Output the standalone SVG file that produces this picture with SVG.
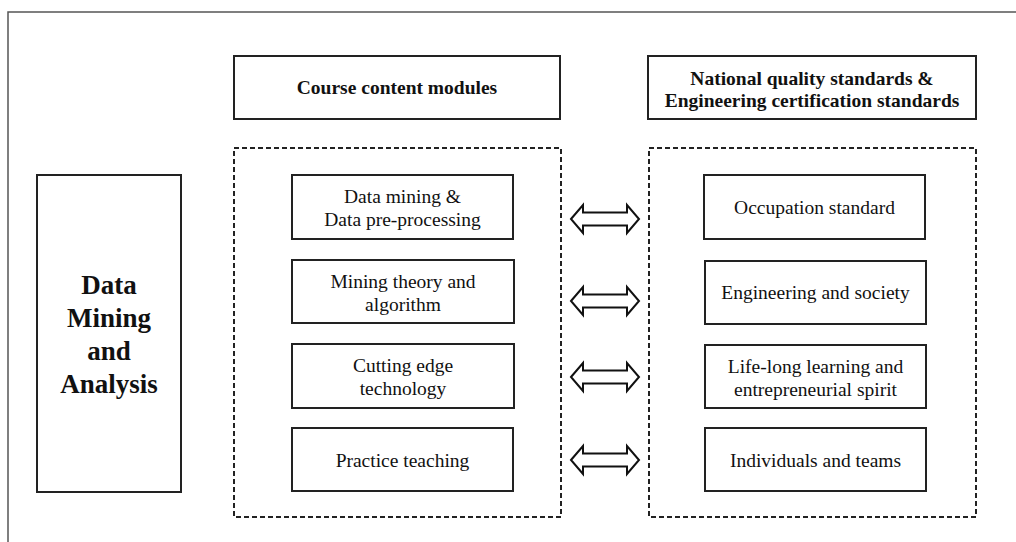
<svg xmlns="http://www.w3.org/2000/svg" width="1016" height="542" viewBox="0 0 1016 542">
<style>
.frame{stroke:#555;stroke-width:1.5;fill:none}
.box{fill:#fff;stroke:#222;stroke-width:2}
.dash{fill:none;stroke:#222;stroke-width:2;stroke-dasharray:5 3}
.arrow{fill:#fff;stroke:#111;stroke-width:2;stroke-linejoin:miter}
text{font-family:"Liberation Serif","Times New Roman",serif;fill:#111;text-anchor:middle}
.b{font-weight:bold;font-size:19.5px}
.r{font-size:19.5px}
.big{font-weight:bold;font-size:27px}
</style>
<rect width="1016" height="542" fill="#fff"/>
<path class="frame" d="M8,542 V12 H1016"/>
<g id="main-title">
<rect class="box" x="37" y="175" width="144" height="317"/>
<text class="big" x="109" y="294">Data</text>
<text class="big" x="109" y="327">Mining</text>
<text class="big" x="109" y="360">and</text>
<text class="big" x="109" y="393">Analysis</text>
</g>
<g id="header-course">
<rect class="box" x="234" y="56" width="326" height="63"/>
<text class="b" x="397" y="94">Course content modules</text>
</g>
<g id="header-standards">
<rect class="box" x="648" y="56" width="328" height="63"/>
<text class="b" x="812" y="85">National quality standards &amp;</text>
<text class="b" x="812" y="107">Engineering certification standards</text>
</g>
<g id="group-course">
<rect class="dash" x="234" y="148" width="327" height="369"/>
</g>
<g id="group-standards">
<rect class="dash" x="649" y="148" width="327" height="369"/>
</g>
<g id="c1">
<rect class="box" x="292" y="175" width="221" height="64"/>
<text class="r" x="402.5" y="203">Data mining &amp;</text>
<text class="r" x="402.5" y="226">Data pre-processing</text>
</g>
<g id="c2">
<rect class="box" x="292" y="260" width="222" height="63"/>
<text class="r" x="403" y="288">Mining theory and</text>
<text class="r" x="403" y="311">algorithm</text>
</g>
<g id="c3">
<rect class="box" x="292" y="344" width="222" height="64"/>
<text class="r" x="403" y="372">Cutting edge</text>
<text class="r" x="403" y="395">technology</text>
</g>
<g id="c4">
<rect class="box" x="292" y="428" width="221" height="63"/>
<text class="r" x="402.5" y="467">Practice teaching</text>
</g>
<g id="s1">
<rect class="box" x="704" y="175" width="221" height="64"/>
<text class="r" x="814.5" y="214">Occupation standard</text>
</g>
<g id="s2">
<rect class="box" x="705" y="261" width="221" height="63"/>
<text class="r" x="815.5" y="299">Engineering and society</text>
</g>
<g id="s3">
<rect class="box" x="705" y="345" width="221" height="63"/>
<text class="r" x="815.5" y="373">Life-long learning and</text>
<text class="r" x="815.5" y="396">entrepreneurial spirit</text>
</g>
<g id="s4">
<rect class="box" x="705" y="428" width="221" height="63"/>
<text class="r" x="815.5" y="467">Individuals and teams</text>
</g>
<g id="connectors">
<path class="arrow" d="M571,219 L583,205 L583,212.5 L627,212.5 L627,205 L639,219 L627,233 L627,225.5 L583,225.5 L583,233 Z"/>
<path class="arrow" d="M571,301 L583,287 L583,294.5 L627,294.5 L627,287 L639,301 L627,315 L627,307.5 L583,307.5 L583,315 Z"/>
<path class="arrow" d="M571,377 L583,363 L583,370.5 L627,370.5 L627,363 L639,377 L627,391 L627,383.5 L583,383.5 L583,391 Z"/>
<path class="arrow" d="M571,460 L583,446 L583,453.5 L627,453.5 L627,446 L639,460 L627,474 L627,466.5 L583,466.5 L583,474 Z"/>
</g>
</svg>
